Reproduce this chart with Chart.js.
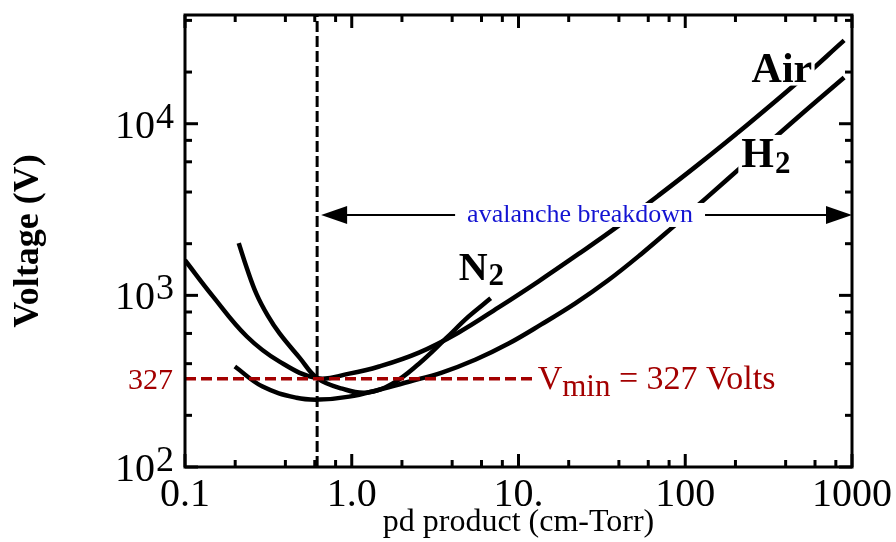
<!DOCTYPE html>
<html>
<head>
<meta charset="utf-8">
<script src="https://cdn.jsdelivr.net/npm/chart.js@4.4.0/dist/chart.umd.min.js"></script>
<style>
  html, body { margin: 0; padding: 0; background: #fff; }
  #wrap { width: 896px; height: 542px; }
</style>
</head>
<body>
<div id="wrap"><canvas id="paschen"></canvas></div>
<script>
// Axis ticks
const xTickValues = [0.1, 1, 10, 100, 1000];
const xTickLabels = ['0.1', '1.0', '10.', '100', '1000'];
const yTickExponents = [2, 3, 4];
const xMin = 0.1, xMax = 1000, yMin = 100, yMax = 43000;

// Breakdown curves (pd in cm-Torr, voltage in V)
const airPd    = [0.1, 0.147, 0.235, 0.369, 0.622, 0.966, 1.46, 2.53, 4.38, 7.6, 13.2, 22.8, 39.5, 68.5, 119, 236, 470, 897];
const airVolts = [1602, 987, 576, 411, 329, 350, 385, 464, 608, 851, 1208, 1737, 2532, 3793, 5757, 9867, 17370, 30570];

const h2Pd     = [0.199, 0.292, 0.466, 0.64, 0.966, 1.46, 2.2, 3.47, 5.54, 8.72, 13.7, 21.9, 34.5, 54.3, 84.2, 136, 236, 470, 897];
const h2Volts  = [385, 294, 253, 247, 257, 282, 314, 355, 423, 524, 677, 898, 1224, 1737, 2498, 3750, 6010, 10842, 18600];

const n2Pd     = [0.21, 0.235, 0.269, 0.313, 0.369, 0.486, 0.622, 0.878, 1.22, 1.75, 2.53, 3.67, 5.03, 6.81];
const n2Volts  = [2015, 1439, 1013, 764, 600, 434, 329, 286, 271, 306, 400, 561, 754, 961];

// Markers
const vMin = 327;
const vMinPd = 0.62;
const vMinLineEnd = 12.5;
const avalancheVolts = 2940;

const serif = 'Liberation Serif';
const darkRed = '#a30000';

const toPoints = (xs, ys) => xs.map((x, i) => ({ x: x, y: ys[i] }));

function drawText(ctx, str, x, y, size, color, bold, align) {
    ctx.font = (bold ? 'bold ' : '') + size + 'px "' + serif + '"';
    ctx.fillStyle = color;
    ctx.textAlign = align || 'left';
    ctx.textBaseline = 'alphabetic';
    ctx.fillText(str, x, y);
    return ctx.measureText(str).width;
}

function seg(ctx, x1, y1, x2, y2) {
    ctx.beginPath();
    ctx.moveTo(x1, y1);
    ctx.lineTo(x2, y2);
    ctx.stroke();
}

// Frame, inward ticks, y tick labels and the annotations
const decor = {
    id: 'decor',
    afterDatasetsDraw(chart) {
        const { ctx, chartArea: a, scales: { x, y } } = chart;
        ctx.save();
        ctx.strokeStyle = '#000';
        ctx.lineWidth = 3;
        ctx.strokeRect(a.left, a.top, a.right - a.left, a.bottom - a.top);

        // ticks on all four sides
        for (let k = -2; k <= 5; k++) {
            for (const m of [1, 2, 4, 6, 8]) {
                const v = m * Math.pow(10, k);
                const len = m === 1 ? 13 : 7;
                if (v >= xMin && v <= xMax) {
                    const px = x.getPixelForValue(v);
                    seg(ctx, px, a.bottom, px, a.bottom - len);
                    seg(ctx, px, a.top, px, a.top + len);
                }
                if (v >= yMin && v <= yMax) {
                    const py = y.getPixelForValue(v);
                    seg(ctx, a.left, py, a.left + len, py);
                    seg(ctx, a.right, py, a.right - len, py);
                }
            }
        }

        // y tick labels 10^n
        yTickExponents.forEach(e => {
            const py = y.getPixelForValue(Math.pow(10, e));
            drawText(ctx, String(e), a.left - 11, py + 4, 36, '#000', false, 'right');
            drawText(ctx, '10', a.left - 30, py + 14, 40, '#000', false, 'right');
        });

        // Vmin marker texts
        const yv = y.getPixelForValue(vMin);
        drawText(ctx, String(vMin), a.left - 12, yv + 10, 30, darkRed, false, 'right');
        let tx = x.getPixelForValue(vMinLineEnd) + 3;
        tx += drawText(ctx, 'V', tx, yv + 10, 34, darkRed);
        tx += drawText(ctx, 'min', tx, yv + 17, 31, darkRed);
        drawText(ctx, ' = ' + vMin + ' Volts', tx, yv + 10, 34, darkRed);

        // avalanche breakdown arrow
        const ya = y.getPixelForValue(avalancheVolts);
        const x1 = x.getPixelForValue(vMinPd) + 4, x2 = a.right;
        ctx.lineWidth = 2;
        seg(ctx, x1 + 10, ya, x2 - 10, ya);
        ctx.fillStyle = '#000';
        ctx.beginPath();
        ctx.moveTo(x1, ya); ctx.lineTo(x1 + 26, ya - 9); ctx.lineTo(x1 + 26, ya + 9); ctx.closePath();
        ctx.fill();
        ctx.beginPath();
        ctx.moveTo(x2, ya); ctx.lineTo(x2 - 26, ya - 9); ctx.lineTo(x2 - 26, ya + 9); ctx.closePath();
        ctx.fill();
        const label = 'avalanche breakdown';
        ctx.font = '26px "' + serif + '"';
        const lw = ctx.measureText(label).width;
        const cx = x.getPixelForValue(23.4);
        ctx.fillStyle = '#fff';
        ctx.fillRect(cx - lw / 2 - 12, ya - 12, lw + 24, 24);
        drawText(ctx, label, cx - lw / 2, ya + 7, 26, '#1414d2');

        // curve labels
        let lx = x.getPixelForValue(250), ly = y.getPixelForValue(17600);
        ctx.fillStyle = '#fff';
        ctx.fillRect(lx - 3, ly - 32, 66, 36);
        drawText(ctx, 'Air', lx, ly, 42, '#000', true);

        lx = x.getPixelForValue(217); ly = y.getPixelForValue(5600);
        ctx.fillStyle = '#fff';
        ctx.fillRect(lx - 3, ly - 32, 55, 41);
        let w = drawText(ctx, 'H', lx, ly, 42, '#000', true);
        drawText(ctx, '2', lx + w + 1, ly + 6, 31, '#000', true);

        lx = x.getPixelForValue(4.38); ly = y.getPixelForValue(1224);
        w = drawText(ctx, 'N', lx, ly, 40, '#000', true);
        drawText(ctx, '2', lx + w + 1, ly + 5, 31, '#000', true);

        ctx.restore();
    }
};

const curveStyle = {
    borderColor: '#000',
    borderWidth: 4.5,
    pointRadius: 0,
    fill: false,
    tension: 0.4
};

new Chart(document.getElementById('paschen').getContext('2d'), {
    type: 'line',
    data: {
        datasets: [
            {
                label: 'Vmin',
                data: [{ x: xMin, y: vMin }, { x: vMinLineEnd, y: vMin }],
                borderColor: darkRed,
                borderWidth: 3.5,
                borderDash: [11, 5],
                pointRadius: 0
            },
            {
                label: 'pd at Vmin',
                data: [{ x: vMinPd, y: yMin }, { x: vMinPd, y: yMax }],
                borderColor: '#000',
                borderWidth: 3,
                borderDash: [11, 4],
                pointRadius: 0
            },
            Object.assign({ label: 'Air', data: toPoints(airPd, airVolts) }, curveStyle),
            Object.assign({ label: 'H2', data: toPoints(h2Pd, h2Volts) }, curveStyle),
            Object.assign({ label: 'N2', data: toPoints(n2Pd, n2Volts) }, curveStyle)
        ]
    },
    options: {
        responsive: true,
        maintainAspectRatio: false,
        animation: false,
        devicePixelRatio: 1,
        layout: { padding: { top: 15, right: 41, left: 0, bottom: 0 } },
        plugins: {
            legend: { display: false },
            tooltip: { enabled: false }
        },
        scales: {
            x: {
                type: 'logarithmic',
                min: xMin,
                max: xMax,
                afterBuildTicks: s => { s.ticks = xTickValues.map(v => ({ value: v })); },
                afterFit: s => { s.height = 75; },
                ticks: {
                    autoSkip: false,
                    maxRotation: 0,
                    padding: 4,
                    color: '#000',
                    font: { family: serif, size: 40 },
                    callback: (v, i) => xTickLabels[i]
                },
                grid: { display: false, drawTicks: false },
                border: { display: false },
                title: {
                    display: true,
                    text: 'pd product (cm-Torr)',
                    color: '#000',
                    font: { family: serif, size: 32 },
                    padding: { top: 0, bottom: 0 }
                }
            },
            y: {
                type: 'logarithmic',
                min: yMin,
                max: yMax,
                afterFit: s => { s.width = 185; },
                ticks: { display: false },
                grid: { display: false, drawTicks: false },
                border: { display: false },
                title: {
                    display: true,
                    text: 'Voltage (V)',
                    color: '#000',
                    font: { family: serif, size: 36, weight: 'bold' },
                    padding: { top: 7, bottom: 0 }
                }
            }
        }
    },
    plugins: [decor]
});
</script>
</body>
</html>
